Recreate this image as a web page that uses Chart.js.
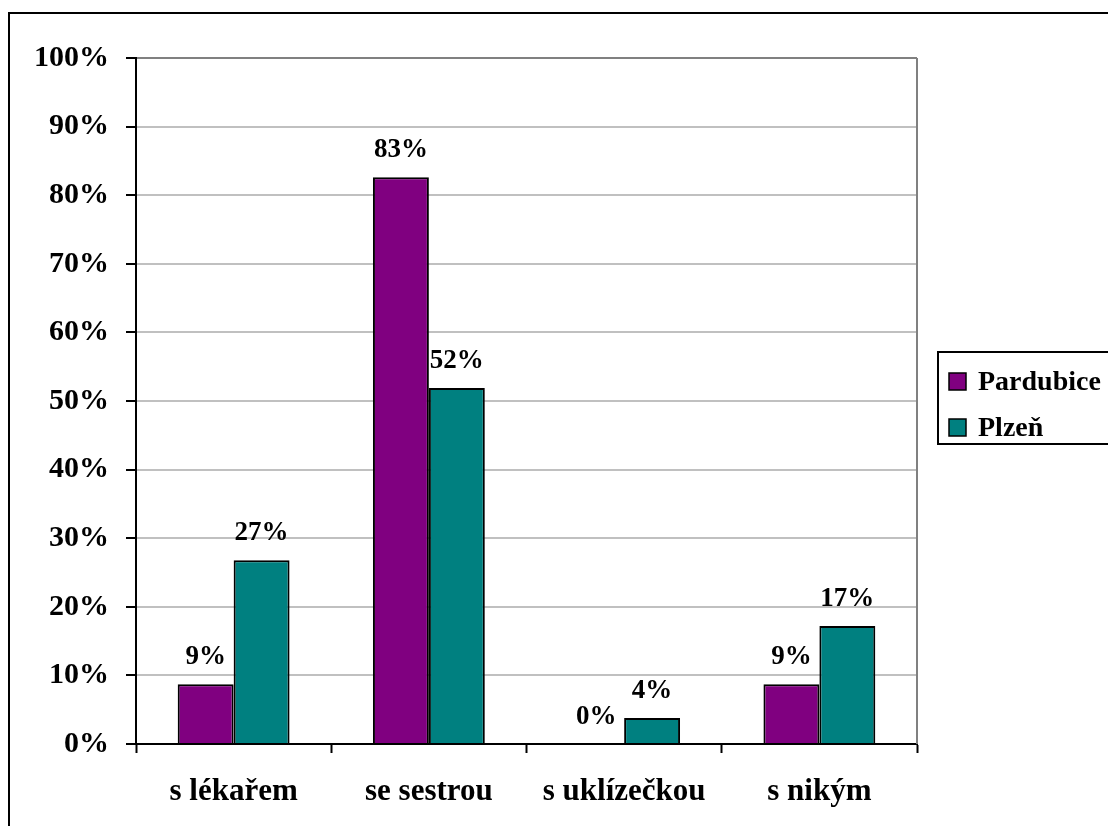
<!DOCTYPE html>
<html>
<head>
<meta charset="utf-8">
<script src="https://cdn.jsdelivr.net/npm/chart.js@4"></script>
<style>
html, body { margin: 0; padding: 0; background: #fff; }
#wrap { width: 1108px; height: 826px; position: relative; }
</style>
</head>
<body>
<div id="wrap"><canvas id="chart" width="1108" height="826"></canvas></div>
<script>
const categories = ["s lékařem", "se sestrou", "s uklízečkou", "s nikým"];
const seriesNames = ["Pardubice", "Plzeň"];
const pardubice = [8.7, 82.6, 0, 8.7];
const plzen = [26.8, 51.9, 3.8, 17.2];
const yTicks = [0, 10, 20, 30, 40, 50, 60, 70, 80, 90, 100];

const FONT = "'Liberation Serif', 'Times New Roman', serif";
const colors = ["#800080", "#008080"];

// outer frame, plot border, data labels and the boxed legend
const extras = {
    id: "extras",
    beforeDraw(chart){
        const ctx = chart.ctx;
        ctx.save();
        ctx.fillStyle = "#fff";
        ctx.fillRect(0, 0, chart.width, chart.height);
        ctx.strokeStyle = "#000";
        ctx.lineWidth = 2;
        ctx.strokeRect(9, 13, chart.width + 20, chart.height + 20);
        ctx.restore();
    },
    afterDraw(chart){
        const ctx = chart.ctx;
        const area = chart.chartArea;
        ctx.save();
        // right border of plot area
        ctx.strokeStyle = "#808080";
        ctx.lineWidth = 2;
        ctx.beginPath();
        ctx.moveTo(area.right, area.top);
        ctx.lineTo(area.right, area.bottom);
        ctx.stroke();

        // value labels
        ctx.fillStyle = "#000";
        ctx.font = "bold 27px " + FONT;
        ctx.textAlign = "center";
        ctx.textBaseline = "alphabetic";
        chart.data.datasets.forEach((ds, i) => {
            chart.getDatasetMeta(i).data.forEach((bar, j) => {
                ctx.fillText(Math.round(ds.data[j]) + "%", bar.x, bar.y - 20);
            });
        });

        // legend
        const lx = area.right + 21;
        const ly = 352;
        ctx.strokeStyle = "#000";
        ctx.lineWidth = 2;
        ctx.strokeRect(lx, ly, 300, 92);
        ctx.font = "bold 28px " + FONT;
        ctx.textAlign = "left";
        ctx.textBaseline = "middle";
        seriesNames.forEach((name, i) => {
            const cy = ly + 30 + i * 46;
            ctx.fillStyle = colors[i];
            ctx.fillRect(lx + 11, cy - 9, 17, 17);
            ctx.lineWidth = 1.5;
            ctx.strokeRect(lx + 11, cy - 9, 17, 17);
            ctx.fillStyle = "#000";
            ctx.fillText(name, lx + 40, cy + 1);
        });
        ctx.restore();
    }
};

new Chart(document.getElementById("chart"), {
    type: "bar",
    data: {
        labels: categories,
        datasets: [
            { label: seriesNames[0], data: pardubice, backgroundColor: colors[0], borderColor: "#000", borderWidth: 2, borderSkipped: "start" },
            { label: seriesNames[1], data: plzen, backgroundColor: colors[1], borderColor: "#000", borderWidth: 2, borderSkipped: "start" }
        ]
    },
    options: {
        responsive: false,
        animation: false,
        devicePixelRatio: 1,
        layout: { padding: { left: 0, top: 58, right: 191, bottom: 0 } },
        datasets: { bar: { categoryPercentage: 0.573, barPercentage: 1 } },
        plugins: { legend: { display: false }, tooltip: { enabled: false } },
        scales: {
            x: {
                afterFit(scale){ scale.height = 82; },
                grid: { offset: true, drawOnChartArea: false, drawTicks: true, tickLength: 9, tickColor: "#000", tickWidth: 2 },
                border: { color: "#000", width: 2 },
                ticks: { color: "#000", font: { family: FONT, size: 31, weight: "bold" }, padding: 20 }
            },
            y: {
                min: 0,
                max: 100,
                afterFit(scale){ scale.width = 136; },
                afterBuildTicks(scale){ scale.ticks = yTicks.map(v => ({ value: v })); },
                grid: {
                    color: c => c.tick && c.tick.value === 100 ? "#808080" : "#c0c0c0",
                    lineWidth: 2,
                    drawTicks: true,
                    tickLength: 10,
                    tickColor: "#000",
                    tickWidth: 2
                },
                border: { color: "#000", width: 2 },
                ticks: { color: "#000", font: { family: FONT, size: 30, weight: "bold" }, padding: 17, callback: v => v + "%" }
            }
        }
    },
    plugins: [extras]
});
</script>
</body>
</html>
